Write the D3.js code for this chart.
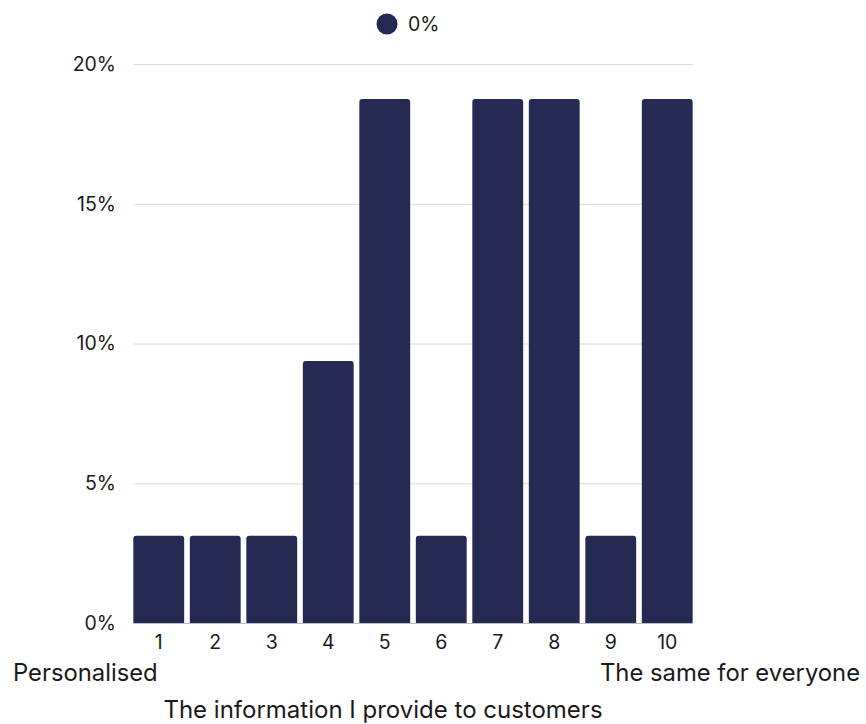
<!DOCTYPE html>
<html lang="en">
<head>
<meta charset="UTF-8">
<title>Chart</title>
<style>
  body { margin: 0; background: #fff; }
  svg text { font-family: Inter, "Noto Sans", sans-serif; fill: #1a1a1a; }
</style>
</head>
<body>
<script src="https://d3js.org/d3.v7.min.js"></script>
<script>
  const categories = ["1", "2", "3", "4", "5", "6", "7", "8", "9", "10"];
  const values = [3.125, 3.125, 3.125, 9.375, 18.75, 3.125, 18.75, 18.75, 3.125, 18.75];
  const yTicks = [0, 5, 10, 15, 20];
  const legendLabel = "0%";
  const leftLabel = "Personalised";
  const rightLabel = "The same for everyone";
  const axisTitle = "The information I provide to customers";

  const w = 866, h = 724;
  const color = "#262a52";
  const svg = d3.select("body").append("svg")
    .attr("width", w)
    .attr("height", h);

  const x = d3.scaleBand().domain(categories)
    .range([130.5, 695.5]).paddingInner(0.1).paddingOuter(0.05);
  const y = d3.scaleLinear().domain([0, 20]).range([623, 64]);

  const gx0 = x(categories[0]), gx1 = x(categories[categories.length - 1]) + x.bandwidth();

  // gridlines
  svg.selectAll("line.grid").data(yTicks).enter().append("line")
    .attr("x1", gx0).attr("x2", gx1)
    .attr("y1", d => y(d) + 0.5).attr("y2", d => y(d) + 0.5)
    .attr("stroke", d => d === 0 ? "#bdbdbd" : "#dcdcdc")
    .attr("stroke-width", 1);

  svg.selectAll("text.ytick").data(yTicks).enter().append("text")
    .attr("x", 116).attr("y", d => y(d))
    .attr("dy", "0.35em")
    .attr("text-anchor", "end")
    .style("font-size", "19.5px")
    .text(d => d + "%");

  // bars with rounded top corners
  const r = 3;
  svg.selectAll("path.bar").data(values).enter().append("path")
    .attr("fill", color)
    .attr("d", (d, i) => {
      const x0 = x(categories[i]), bw = x.bandwidth();
      const yt = y(d), yb = y(0);
      return `M${x0},${yb}V${yt + r}Q${x0},${yt} ${x0 + r},${yt}H${x0 + bw - r}Q${x0 + bw},${yt} ${x0 + bw},${yt + r}V${yb}Z`;
    });

  svg.selectAll("text.xtick").data(categories).enter().append("text")
    .attr("x", d => x(d) + x.bandwidth() / 2)
    .attr("y", 649)
    .attr("text-anchor", "middle")
    .style("font-size", "19.5px")
    .text(d => d);

  svg.append("text").attr("x", 13).attr("y", 681)
    .style("font-size", "23.8px").text(leftLabel);
  svg.append("text").attr("x", 860).attr("y", 681)
    .attr("text-anchor", "end")
    .style("font-size", "23.8px").text(rightLabel);
  svg.append("text").attr("x", 383).attr("y", 718)
    .attr("text-anchor", "middle")
    .style("font-size", "24px").text(axisTitle);

  // legend
  svg.append("circle").attr("cx", 387).attr("cy", 24).attr("r", 10.5).attr("fill", color);
  svg.append("text").attr("x", 408).attr("y", 24).attr("dy", "0.35em")
    .style("font-size", "19.5px").text(legendLabel);
</script>
</body>
</html>
